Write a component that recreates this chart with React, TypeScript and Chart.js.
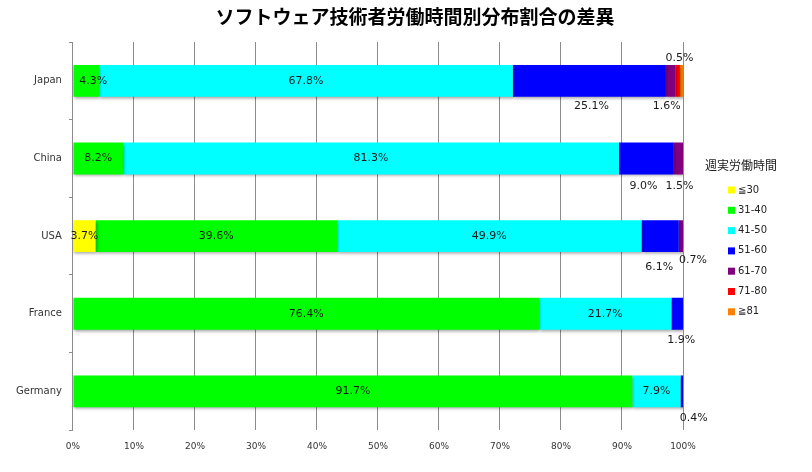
import React, { useEffect, useRef } from "react";
import { Chart, registerables } from "chart.js";

Chart.register(...registerables);

const countries = ["Japan", "China", "USA", "France", "Germany"];
const seriesNames = ["≦30", "31-40", "41-50", "51-60", "61-70", "71-80", "≧81"];
const seriesColors = ["#FFFF00", "#00FF00", "#00FFFF", "#0000FF", "#800080", "#FF0000", "#FF8000"];

const le30 = [0, 0, 3.7, 0, 0];
const h31_40 = [4.3, 8.2, 39.6, 76.4, 91.7];
const h41_50 = [67.8, 81.3, 49.9, 21.7, 7.9];
const h51_60 = [25.1, 9.0, 6.1, 1.9, 0.4];
const h61_70 = [1.6, 1.5, 0.7, 0, 0];
const h71_80 = [0.7, 0, 0, 0, 0];
const ge81 = [0.5, 0, 0, 0, 0];

const seriesValues = [le30, h31_40, h41_50, h51_60, h61_70, h71_80, ge81];
const xTickValues = [0, 10, 20, 30, 40, 50, 60, 70, 80, 90, 100];

const chartTitle = "ソフトウェア技術者労働時間別分布割合の差異";
const legendTitle = "週実労働時間";

// label placement (style): offsets from segment center; hidden labels
const labelOffsets: Record<string, [number, number]> = {
  "31-40|Japan": [7, 0],
  "51-60|Japan": [2, 25],
  "61-70|Japan": [-4, 25],
  "≧81|Japan": [-2, -23],
  "51-60|China": [-3, 28],
  "61-70|China": [1, 28],
  "51-60|USA": [-1, 31],
  "61-70|USA": [12, 24],
  "51-60|France": [4, 26],
  "51-60|Germany": [12, 27],
};
const hiddenLabels = new Set(["71-80|Japan"]);

const labelsPlugin = {
  id: "customLabels",
  afterDatasetsDraw(chart: any) {
    const ctx = chart.ctx;
    ctx.save();
    ctx.font = "11px 'DejaVu Sans'";
    ctx.textAlign = "center";
    ctx.textBaseline = "middle";
    ctx.fillStyle = "#1a1a1a";
    chart.data.datasets.forEach((ds: any, di: number) => {
      const meta = chart.getDatasetMeta(di);
      meta.data.forEach((bar: any, i: number) => {
        const v = ds.data[i];
        if (!v) return;
        const key = `${ds.label}|${chart.data.labels[i]}`;
        if (hiddenLabels.has(key)) return;
        const off = labelOffsets[key] || [0, 0];
        const cx = (bar.x + bar.base) / 2 + off[0];
        const cy = bar.y + off[1];
        ctx.fillText(v.toFixed(1) + "%", cx, cy);
      });
    });
    ctx.restore();
  },
};

const shadowPlugin = {
  id: "barShadow",
  beforeDatasetsDraw(chart: any) {
    const ctx = chart.ctx;
    ctx.save();
    ctx.shadowColor = "rgba(0,0,0,0.35)";
    ctx.shadowBlur = 3;
    ctx.shadowOffsetX = 1;
    ctx.shadowOffsetY = 2;
  },
  afterDatasetsDraw(chart: any) {
    chart.ctx.restore();
  },
};

const decorPlugin = {
  id: "decor",
  afterDraw(chart: any) {
    const ctx = chart.ctx;
    ctx.save();
    // title
    ctx.font = "bold 19px 'Noto Sans CJK JP'";
    ctx.fillStyle = "#000";
    ctx.textAlign = "center";
    ctx.textBaseline = "middle";
    ctx.fillText(chartTitle, 415, 17);
    // legend
    ctx.font = "12px 'Noto Sans CJK JP'";
    ctx.fillStyle = "#222";
    ctx.fillText(legendTitle, 741, 165);
    ctx.textAlign = "left";
    ctx.font = "10px 'DejaVu Sans', 'Noto Sans CJK JP'";
    chart.data.datasets.forEach((ds: any, i: number) => {
      const y = 190 + i * 20.3;
      ctx.fillStyle = ds.backgroundColor;
      ctx.fillRect(728, y - 3.5, 7, 7);
      ctx.fillStyle = "#222";
      ctx.fillText(ds.label, 738, y);
    });
    ctx.restore();
  },
};

export default function App() {
  const ref = useRef<HTMLCanvasElement>(null);
  useEffect(() => {
    if (!ref.current) return;
    const chart = new Chart(ref.current, {
      type: "bar",
      data: {
        labels: countries,
        datasets: seriesNames.map((name, i) => ({
          label: name,
          data: seriesValues[i],
          backgroundColor: seriesColors[i],
          borderWidth: 0,
          barPercentage: 0.41,
          categoryPercentage: 1,
        })),
      },
      options: {
        indexAxis: "y",
        animation: false,
        responsive: false,
        devicePixelRatio: 1,
        layout: { padding: { left: 9, right: 129, top: 42, bottom: 9 } },
        plugins: {
          legend: { display: false },
          title: { display: false },
          tooltip: { enabled: false },
        },
        scales: {
          x: {
            stacked: true,
            min: 0,
            max: 100,
            afterBuildTicks(axis: any) {
              axis.ticks = xTickValues.map((v) => ({ value: v }));
            },
            ticks: {
              callback: (v: any) => v + "%",
              font: { family: "'DejaVu Sans'", size: 9 },
              color: "#333",
              padding: 11,
              maxRotation: 0,
            },
            grid: { color: "#8c8c8c", drawTicks: false, lineWidth: 1 },
            border: { display: false },
          },
          y: {
            stacked: true,
            ticks: {
              font: { family: "'DejaVu Sans'", size: 10 },
              color: "#333",
              padding: 7,
            },
            grid: { drawOnChartArea: false, color: "#8c8c8c", tickLength: 4, offset: true },
            border: { display: true, color: "#8c8c8c" },
          },
        },
      },
      plugins: [shadowPlugin, labelsPlugin, decorPlugin],
    } as any);
    return () => chart.destroy();
  }, []);
  return (
    <div style={{ position: "absolute", left: 0, top: 0, width: 812, height: 472, background: "#fff" }}>
      <canvas ref={ref} width={812} height={472} />
    </div>
  );
}
